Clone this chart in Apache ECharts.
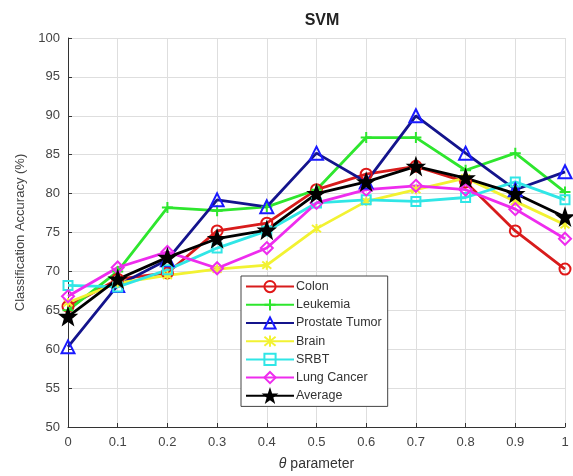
<!DOCTYPE html>
<html lang="en">
<head>
<meta charset="UTF-8">
<title>SVM</title>
<script src="https://cdn.jsdelivr.net/npm/echarts@6/dist/echarts.min.js"></script>
<style>
  html, body { margin: 0; padding: 0; background: #fff; }
  #main { width: 573px; height: 476px; }
</style>
</head>
<body>
<div id="main"></div>
<script>
// theta values on x axis
var theta = [0, 0.1, 0.2, 0.3, 0.4, 0.5, 0.6, 0.7, 0.8, 0.9, 1];

// accuracy (%) per dataset
var colon    = [65.5, 69.0, 69.8, 75.2, 76.2, 80.5, 82.5, 83.5, 81.5, 75.2, 70.3];
var leukemia = [65.0, 70.0, 78.2, 77.8, 78.3, 80.5, 87.2, 87.2, 83.0, 85.2, 80.2];
var prostate = [60.3, 68.2, 71.5, 79.2, 78.3, 85.2, 81.5, 90.0, 85.2, 80.5, 82.8];
var brain    = [66.0, 68.5, 69.5, 70.3, 70.8, 75.5, 79.0, 80.5, 82.0, 79.0, 76.0];
var srbt     = [68.2, 68.0, 70.2, 73.0, 75.2, 78.8, 79.2, 79.0, 79.5, 81.5, 79.2];
var lung     = [66.8, 70.5, 72.5, 70.4, 73.0, 78.8, 80.5, 81.0, 80.5, 78.0, 74.2];
var average  = [64.2, 69.0, 71.8, 74.2, 75.3, 80.0, 81.5, 83.5, 82.0, 80.0, 77.0];

var PLUS = 'path://M0,-10V10M-10,0H10';
var ASTER = 'path://M-8,-8L8,8M-8,8L8,-8M0,-10V10';
var STAR = 'path://M0,-10L2.35,-3.24L9.51,-3.09L3.8,1.24L5.88,8.09L0,4L-5.88,8.09L-3.8,1.24L-9.51,-3.09L-2.35,-3.24Z';

function pairs(ys) {
  return theta.map(function (x, i) { return [x, ys[i]]; });
}

function mk(name, ys, line, mark, symbol, size, filled) {
  return {
    name: name,
    type: 'line',
    data: pairs(ys),
    symbol: symbol,
    symbolSize: size,
    lineStyle: { color: line, width: 2.8 },
    itemStyle: {
      color: filled ? mark : 'rgba(255,255,255,0)',
      borderColor: mark,
      borderWidth: 2
    },
    emphasis: { disabled: true },
    z: 2
  };
}

var chart = echarts.init(document.getElementById('main'));
chart.setOption({
  animation: false,
  textStyle: { fontFamily: 'Liberation Sans, Arial, sans-serif' },
  title: {
    text: 'SVM',
    left: 317, textAlign: 'center', top: 8,
    textStyle: { fontSize: 16, fontWeight: 'bold', color: '#222' }
  },
  grid: { left: 68, right: 8, top: 38, bottom: 49 },
  legend: {
    orient: 'vertical',
    left: 241, top: 276,
    itemWidth: 48, itemHeight: 14, itemGap: 5,
    padding: [4, 6, 4, 4],
    backgroundColor: '#fff',
    borderColor: '#444', borderWidth: 1,
    textStyle: { fontSize: 12.5, color: '#333', padding: [0, 0, 0, -3] },
    data: ['Colon', 'Leukemia', 'Prostate Tumor', 'Brain', 'SRBT', 'Lung Cancer', 'Average']
  },
  xAxis: {
    type: 'value', min: 0, max: 1, interval: 0.1,
    name: '{t|θ} parameter', nameLocation: 'middle', nameGap: 30,
    nameTextStyle: { fontSize: 14, color: '#333', rich: { t: { fontSize: 14, fontStyle: 'italic', color: '#333' } } },
    axisLine: { lineStyle: { color: '#333' } },
    axisTick: { inside: true, length: 4, lineStyle: { color: '#333' } },
    axisLabel: { fontSize: 13, color: '#444', margin: 9 },
    splitLine: { show: true, lineStyle: { color: '#dedede' } }
  },
  yAxis: {
    type: 'value', min: 50, max: 100, interval: 5,
    name: 'Classification Accuracy (%)', nameLocation: 'middle', nameGap: 40,
    nameTextStyle: { fontSize: 13, color: '#444' },
    axisLine: { show: true, lineStyle: { color: '#333' } },
    axisTick: { show: true, inside: true, length: 4, lineStyle: { color: '#333' } },
    axisLabel: { fontSize: 13, color: '#444', margin: 8 },
    splitLine: { show: true, lineStyle: { color: '#dedede' } }
  },
  series: [
    mk('Colon', colon, '#d81c1c', '#e01818', 'circle', 11, false),
    mk('Leukemia', leukemia, '#2ee62e', '#2ee62e', PLUS, 11, false),
    mk('Prostate Tumor', prostate, '#14148c', '#1a1aff', 'triangle', 13, false),
    mk('Brain', brain, '#f2f232', '#f2f232', ASTER, 9, false),
    mk('SRBT', srbt, '#30e6e6', '#30e6e6', 'rect', 9, false),
    mk('Lung Cancer', lung, '#ee2cee', '#ee2cee', 'diamond', 12, false),
    mk('Average', average, '#000', '#000', STAR, 15, true)
  ]
});
</script>
</body>
</html>
